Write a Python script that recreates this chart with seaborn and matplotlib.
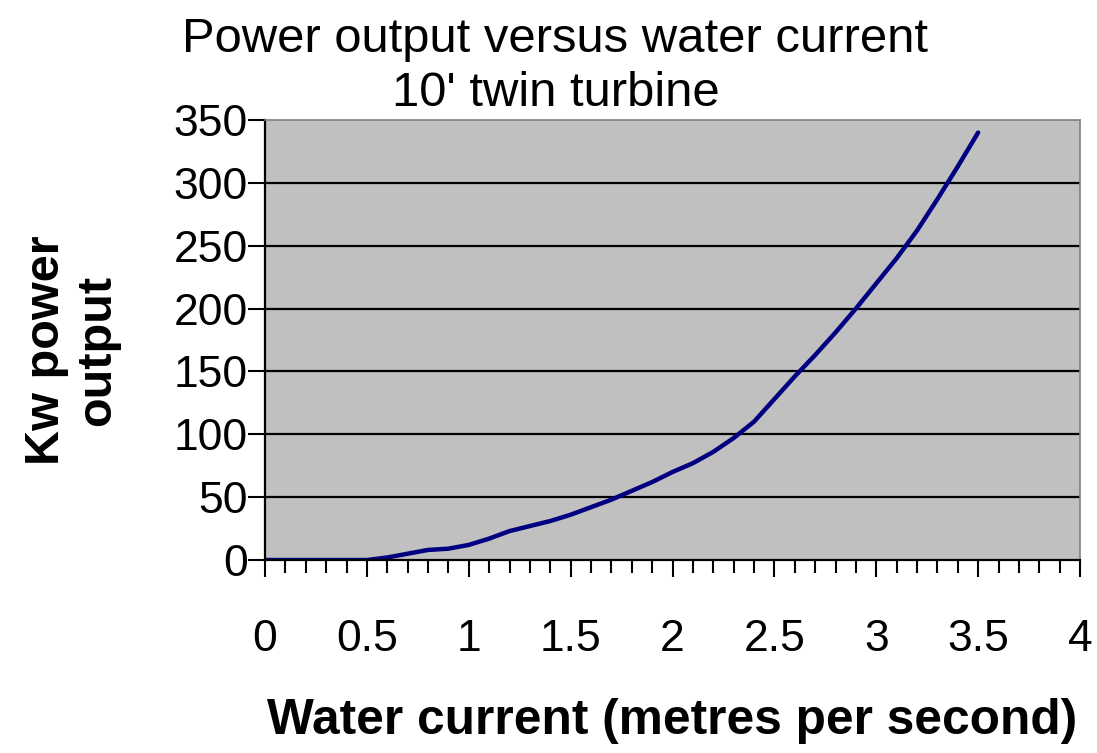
import numpy as np
import pandas as pd
import matplotlib
matplotlib.use("Agg")
import matplotlib.pyplot as plt
import seaborn as sns
from matplotlib.ticker import MultipleLocator

# Data
current = [0.0, 0.1, 0.2, 0.3, 0.4, 0.5, 0.6, 0.7, 0.8, 0.9, 1.0,
           1.1, 1.2, 1.3, 1.4, 1.5, 1.6, 1.7, 1.8, 1.9, 2.0,
           2.1, 2.2, 2.3, 2.4, 2.5, 2.6, 2.7, 2.8, 2.9, 3.0,
           3.1, 3.2, 3.3, 3.4, 3.5]
power = [0, 0, 0, 0, 0, 0, 2, 5, 8, 9, 12,
         17, 23, 27, 31, 36, 42, 48, 55, 62, 70,
         77, 86, 97, 110, 128, 146, 163, 181, 200, 220,
         240, 262, 287, 313, 340]
xticks = [0, 0.5, 1, 1.5, 2, 2.5, 3, 3.5, 4]
xticklabels = ["0", "0.5", "1", "1.5", "2", "2.5", "3", "3.5", "4"]
yticks = [0, 50, 100, 150, 200, 250, 300, 350]

df = pd.DataFrame({"current": current, "power": power})

sns.set_theme(style="white")
plt.rcParams['font.family'] = ['Liberation Sans', 'DejaVu Sans']
plt.rcParams['text.color'] = 'black'
plt.rcParams['xtick.color'] = 'black'
plt.rcParams['ytick.color'] = 'black'
plt.rcParams['axes.labelcolor'] = 'black'

fig = plt.figure(figsize=(10.97, 7.53), dpi=100)
ax = fig.add_axes([265/1097, 1-560/753, (1080-265)/1097, (560-120)/753])
ax.set_facecolor("#C0C0C0")

sns.lineplot(data=df, x="current", y="power", ax=ax, color="#000080", linewidth=3.2)

ax.set_xlim(0, 4)
ax.set_ylim(0, 350)
ax.set_xticks(xticks)
ax.set_xticklabels(xticklabels)
ax.xaxis.set_minor_locator(MultipleLocator(0.1))
ax.set_yticks(yticks)
for y in yticks[1:-1]:
    ax.axhline(y, color="black", linewidth=1.6, zorder=1)

ax.tick_params(axis="x", which="major", direction="out", length=12.5, width=1.5,
               color="black", labelsize=32, pad=30, bottom=True, labelcolor="black")
ax.tick_params(axis="x", which="minor", direction="out", length=9, width=1.5,
               color="black", bottom=True)
ax.tick_params(axis="y", which="major", direction="out", length=12.5, width=1.5,
               color="black", labelsize=32, pad=0, left=True, labelcolor="black")

for side in ["top", "right"]:
    ax.spines[side].set_color("#808080")
    ax.spines[side].set_linewidth(1.2)
for side in ["left", "bottom"]:
    ax.spines[side].set_color("black")
    ax.spines[side].set_linewidth(1.6)

ax.set_xlabel("Water current (metres per second)", fontsize=35.7, fontweight="bold",
              labelpad=27, color="black")
ax.set_ylabel("")

fig.text(555/1097, 1-52/753, "Power output versus water current", ha="center", va="baseline",
         fontsize=35.3, color="black")
fig.text(556/1097, 1-106/753, "10' twin turbine", ha="center", va="baseline",
         fontsize=35.3, color="black")
fig.text(72/1097, 1-350/753, "Kw power\noutput", rotation=90, ha="center", va="center",
         fontsize=35, fontweight="bold", multialignment="center", linespacing=1.15, color="black")

fig.savefig("out.png", dpi=100)
